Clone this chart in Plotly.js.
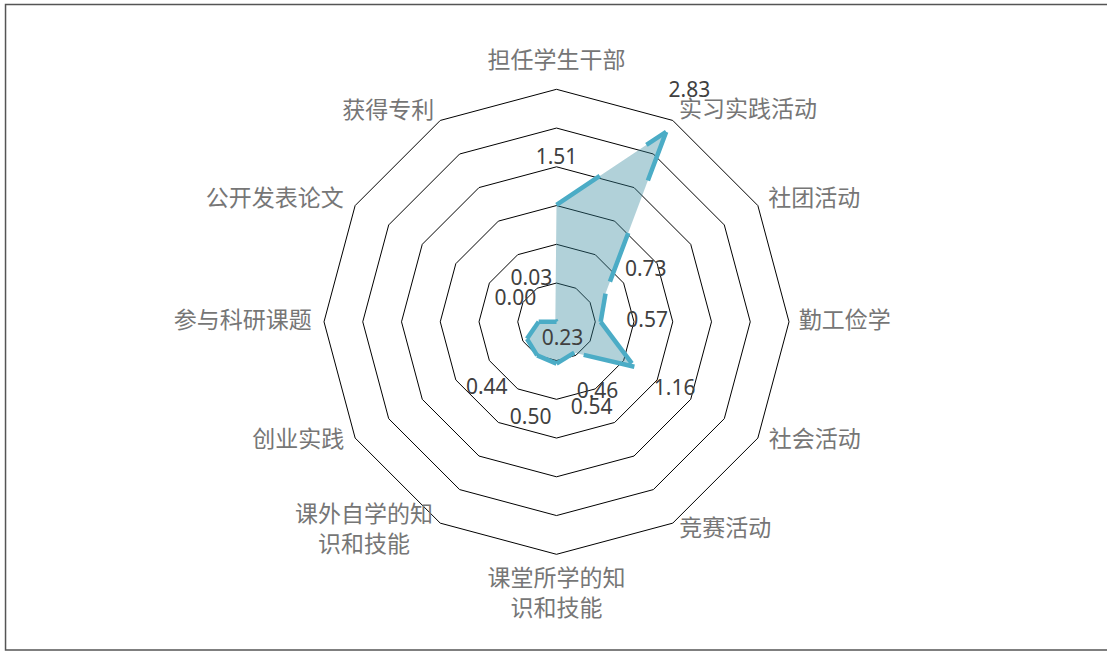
<!DOCTYPE html>
<html><head><meta charset="utf-8">
<script src="https://cdn.plot.ly/plotly-3.0.1.min.js"></script>
<style>html,body{margin:0;padding:0;background:#fff}#chart{width:1107px;height:651px}</style>
</head><body><div id="chart"></div>
<script>
// ---- data ----
const categories = ['担任学生干部','实习实践活动','社团活动','勤工俭学','社会活动','竞赛活动','课堂所学的知识和技能','课外自学的知识和技能','创业实践','参与科研课题','公开发表论文','获得专利'];
const tickLabels = ['担任学生干部','实习实践活动','社团活动','勤工俭学','社会活动','竞赛活动','课堂所学的知<br>识和技能','课外自学的知<br>识和技能','创业实践','参与科研课题','公开发表论文','获得专利'];
const values = [1.51, 2.83, 0.73, 0.57, 1.16, 0.46, 0.54, 0.50, 0.44, 0.23, 0.00, 0.03];
const radialMax = 3;
const radialStep = 0.5;

// ---- label placement (layout only) ----
const labelOffsetR = 0.6;
const labelNudgeR = [0, 0, 0, 0, 0, 0, 0.07, 0.19, 0.21, -0.58, 0, 0];
const labelNudgeDeg = [0, 0, 0, 0, 0, 0, -22, -15, -14, -108, -2, -1];
const catLabelR = [3.35, 3.67, 3.68, 3.72, 3.67, 3.46, 3.53, 3.67, 3.67, 4.05, 3.96, 3.47];
const catLabelDeg = [0, 42.3, 64.7, 90, 114.8, 141.0, 180, 222.6, 245.2, 270, 293.4, 321.3];

// ---- geometry (pixels) ----
const W = 1107, H = 651, cx = 556.5, cy = 321.8, R = 232.5;
const labelRange = 4.1;
const R2 = R * labelRange / radialMax;
const domOf = rad => ({x: [(cx - rad) / W, (cx + rad) / W], y: [1 - (cy + rad) / H, 1 - (cy - rad) / H]});

const lineColor = '#4BACC6';
const traces = [];

// filled area
traces.push({
  type: 'scatterpolar', r: values, theta: categories, subplot: 'polar',
  mode: 'lines', fill: 'toself', fillcolor: 'rgba(49,133,156,0.38)',
  line: {width: 0, color: 'rgba(0,0,0,0)'}, hoverinfo: 'skip', showlegend: false
});

// dashed border, pattern restarting on every segment
for (let i = 0; i < values.length - 1; i++) {
  traces.push({
    type: 'scatterpolar', subplot: 'polar',
    r: [values[i], values[i + 1]], theta: [categories[i], categories[i + 1]],
    mode: 'lines', line: {color: lineColor, width: 4.5, dash: '52px,56px'},
    hoverinfo: 'skip', showlegend: false
  });
}

// data labels
const step = 360 / categories.length;
traces.push({
  type: 'scatterpolar', subplot: 'polar2', mode: 'text', cliponaxis: false,
  r: values.map((v, i) => v + labelOffsetR + labelNudgeR[i]),
  theta: values.map((v, i) => i * step + labelNudgeDeg[i]),
  text: values.map(v => v.toFixed(2)),
  textposition: 'middle center',
  textfont: {family: 'Noto Sans, Open Sans, sans-serif', size: 21, color: '#404040'},
  hoverinfo: 'skip', showlegend: false
});

// category labels
traces.push({
  type: 'scatterpolar', subplot: 'polar2', mode: 'text', cliponaxis: false,
  r: catLabelR, theta: catLabelDeg, text: tickLabels,
  textposition: 'middle center',
  textfont: {family: 'Noto Sans CJK SC', size: 23, color: '#767676'},
  hoverinfo: 'skip', showlegend: false
});

const layout = {
  width: W, height: H, autosize: false,
  margin: {l: 0, r: 0, t: 0, b: 0},
  paper_bgcolor: '#fff', showlegend: false,
  polar: {
    domain: domOf(R), gridshape: 'linear', bgcolor: 'rgba(0,0,0,0)',
    radialaxis: {range: [0, radialMax], tick0: 0, dtick: radialStep, showticklabels: false, ticks: '',
                 showline: false, gridcolor: '#000', gridwidth: 1},
    angularaxis: {rotation: 90, direction: 'clockwise', showgrid: false, showline: true,
                  linecolor: '#000', linewidth: 1, ticks: '', showticklabels: false}
  },
  polar2: {
    domain: domOf(R2), bgcolor: 'rgba(0,0,0,0)',
    radialaxis: {range: [0, labelRange], visible: false, showgrid: false},
    angularaxis: {type: 'linear', rotation: 90, direction: 'clockwise', visible: false, showgrid: false}
  },
  shapes: [{type: 'rect', xref: 'paper', yref: 'paper', x0: 0.005, x1: 1.01, y0: 0.0015, y1: 0.9931,
            line: {color: '#555', width: 1.5}}]
};
Plotly.newPlot('chart', traces, layout, {staticPlot: true});
</script></body></html>
